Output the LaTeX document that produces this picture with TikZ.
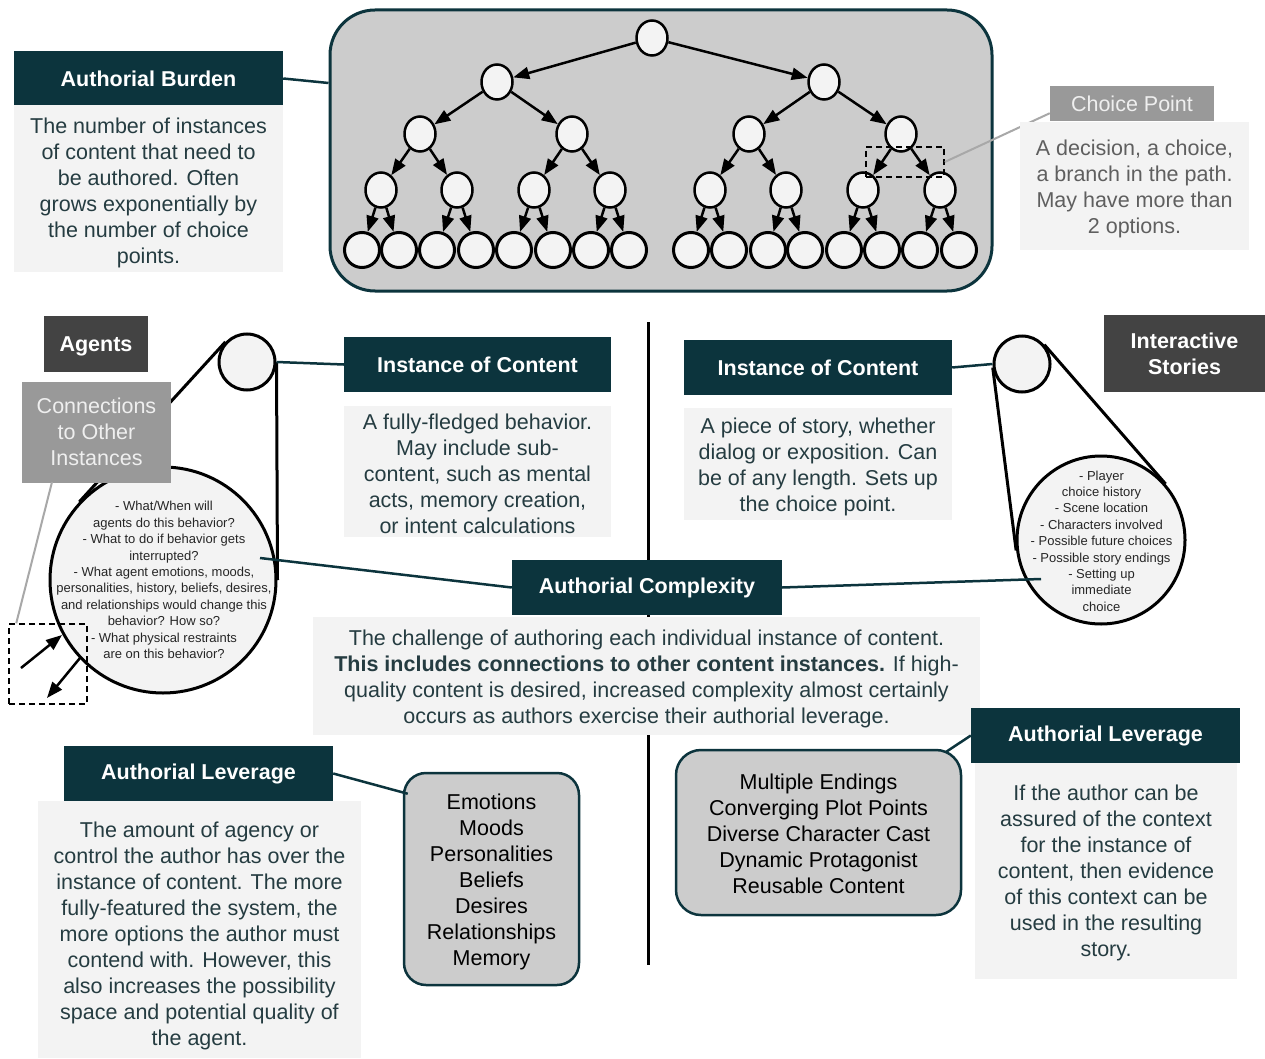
\documentclass[tikz,border=0pt]{standalone}
\usepackage{fontspec}
\setmainfont{Liberation Sans}
\usetikzlibrary{arrows.meta,shapes.geometric,calc}

\definecolor{teal3}{HTML}{0C343D}
\definecolor{lg3}{HTML}{F3F3F3}
\definecolor{lg1}{HTML}{CCCCCC}
\definecolor{dg1}{HTML}{999999}
\definecolor{dg4}{HTML}{434343}
\definecolor{bodytxt}{HTML}{253C41}
\definecolor{greytxt}{HTML}{5F5F5F}
\definecolor{pale}{HTML}{EFEFEF}

\tikzset{
  hdr/.style={fill=teal3, text=white, inner sep=0, align=center,
    font=\fontsize{21.5}{26}\selectfont\bfseries},
  darkbox/.style={fill=dg4, text=white, inner sep=0, align=center,
    font=\fontsize{21.5}{26}\selectfont\bfseries},
  greybox/.style={fill=dg1, text=pale, inner sep=0, align=center,
    font=\fontsize{21.5}{26}\selectfont},
  bodybox/.style={fill=lg3, inner sep=0},
  bodytext/.style={text=bodytxt, inner sep=0, align=center,
    font=\fontsize{21.5}{26}\selectfont},
  listbox/.style={fill=lg1, draw=teal3, line width=2.5pt, inner sep=0},
  listtext/.style={text=black, inner sep=0, align=center,
    font=\fontsize{21.5}{26}\selectfont},
  conn/.style={draw=teal3, line width=2.5pt},
  inode/.style={ellipse, draw=black, fill=lg3, line width=2.5pt,
    minimum width=31pt, minimum height=35pt, inner sep=0},
  leaf/.style={circle, draw=black, fill=lg3, line width=3pt,
    minimum size=35pt, inner sep=0},
  tarrow/.style={line width=2.5pt, -{Triangle[length=16pt,width=12pt]}},
  zoomc/.style={circle, draw=black, fill=lg3, line width=3pt, inner sep=0},
  smalltxt/.style={align=center, text=black!85, inner sep=0,
    font=\fontsize{13}{16.4}\selectfont},
  dashbox/.style={draw=black, line width=1.5pt, dash pattern=on 6pt off 4pt,
    inner sep=0},
  greyline/.style={draw=dg1!85, line width=2pt},
  blackline/.style={draw=black, line width=3pt},
}

\begin{document}
\begin{tikzpicture}[x=1pt,y=-1pt]
\path[use as bounding box, fill=white] (0,0) rectangle (1265,1059);

% central divider
\coordinate (vtop) at (648,322);
\coordinate (vbot) at (648,965);
\draw[blackline] (vtop) -- (vbot);

% ---------- branching story tree ----------
\node[draw=teal3, line width=3pt, fill=lg1, rounded corners=45pt,
      minimum width=662pt, minimum height=281pt] (treebox) at (661,150.5) {};

\node[inode] (r) at (652,38) {};
\node[inode] (a1) at (497,82) {};
\node[inode] (a2) at (824,82) {};
\foreach \i/\x in {1/420,2/572,3/749,4/901}
  \node[inode] (b\i) at (\x,134) {};
\foreach \i/\x in {1/381,2/457,3/534,4/610,5/710,6/786,7/863,8/940}
  \node[inode] (c\i) at (\x,190) {};
\foreach \i/\x in {1/362,2/399,3/437,4/476,5/514,6/553,7/591,8/629,
                   9/691,10/729,11/768,12/805,13/844,14/882,15/920,16/959}
  \node[leaf] (d\i) at (\x,250) {};

\foreach \p/\c in {r/a1,r/a2,a1/b1,a1/b2,a2/b3,a2/b4,
                   b1/c1,b1/c2,b2/c3,b2/c4,b3/c5,b3/c6,b4/c7,b4/c8,
                   c1/d1,c1/d2,c2/d3,c2/d4,c3/d5,c3/d6,c4/d7,c4/d8,
                   c5/d9,c5/d10,c6/d11,c6/d12,c7/d13,c7/d14,c8/d15,c8/d16}
  \draw[tarrow] (\p) -- (\c);

\node[dashbox, minimum width=78pt, minimum height=30pt] (cpdash) at (905,162) {};

% choice point callout
\node[greybox, minimum width=164pt, minimum height=35pt] (cph) at (1132,103.5) {Choice Point};
\draw[greyline] (cpdash.east) -- ($(cph.south west)+(0,-8)$);
\node[bodybox, minimum width=229pt, minimum height=128pt] (cpb) at (1134.5,186) {};
\node[bodytext, text=greytxt] (cpbtxt) at (1134.5,189)
  {A decision, a choice,\\a branch in the path.\\May have more than\\2 options.};

% authorial burden
\node[hdr, minimum width=269pt, minimum height=54pt] (burh) at (148.5,78.5) {Authorial Burden};
\node[bodybox, minimum width=269pt, minimum height=167pt] (burb) at (148.5,188.5) {};
\node[bodytext] (burbtxt) at (148.5,192.5)
  {The number of instances\\of content that need to\\be authored. Often\\grows exponentially by\\the number of choice\\points.};
\draw[conn] (burh.east) -- (treebox.west |- 0,83);

% ---------- agents side ----------
\node[zoomc, minimum size=56pt] (sa) at (247,362) {};
\node[zoomc, minimum size=226pt] (ba) at (163,580) {};
\node[smalltxt] (batxt) at (164,580)
  {- What/When will\\agents do this behavior?\\- What to do if behavior gets\\interrupted?\\- What agent emotions, moods,\\personalities, history, beliefs, desires,\\and relationships would change this\\behavior? How so?\\- What physical restraints\\are on this behavior?};
\draw[blackline] (sa.0) -- (ba.0);
\draw[blackline] (sa.137.5) -- (ba.137.5);

\node[darkbox, minimum width=104pt, minimum height=56pt] (agents) at (96,344) {};
\node[text=white, inner sep=0, font=\fontsize{21.5}{26}\selectfont\bfseries] (agentstxt) at (96,346.5) {Agents};
\node[greybox, minimum width=149pt, minimum height=101pt] (cto) at (96.5,432)
  {Connections\\to Other\\Instances};

\node[dashbox, minimum width=78pt, minimum height=80pt] (ldash) at (48,664) {};
\coordinate (ctofoot) at (52,482);
\draw[greyline] (ctofoot) -- ($(ldash.north west)+(8,0)$);
\coordinate (inA) at (21,668);
\coordinate (inB) at (62,635);
\coordinate (outA) at (80,658);
\coordinate (outB) at (47,698);
\draw[tarrow] (inA) -- (inB);
\draw[tarrow] (outA) -- (outB);

\node[hdr, minimum width=267pt, minimum height=55pt] (ich1) at (477.5,364.5) {Instance of Content};
\node[bodybox, minimum width=267pt, minimum height=131pt] (icb1) at (477.5,471.5) {};
\node[bodytext] (icb1txt) at (477.5,474)
  {A fully-fledged behavior.\\May include sub-\\content, such as mental\\acts, memory creation,\\or intent calculations};
\draw[conn] (sa.east) -- (ich1.west);

% ---------- interactive stories side ----------
\node[darkbox, minimum width=161pt, minimum height=77pt] (istories) at (1184.5,353.5)
  {Interactive\\Stories};
\node[zoomc, minimum size=56pt] (sr) at (1022,364) {};
\node[zoomc, minimum size=168pt] (br) at (1101,540) {};
\node[smalltxt] (brtxt) at (1101.5,541)
  {- Player\\choice history\\- Scene location\\- Characters involved\\- Possible future choices\\- Possible story endings\\- Setting up\\immediate\\choice};
\draw[blackline] (sr.41.1) -- (br.41.1);
\draw[blackline] (sr.187.3) -- (br.187.3);

\node[hdr, minimum width=268pt, minimum height=55pt] (ich2) at (818,367.5) {Instance of Content};
\node[bodybox, minimum width=268pt, minimum height=112pt] (icb2) at (818,464) {};
\node[bodytext] (icb2txt) at (818,466.5)
  {A piece of story, whether\\dialog or exposition. Can\\be of any length. Sets up\\the choice point.};
\draw[conn] (ich2.east) -- (sr.west);

% ---------- authorial complexity ----------
\node[hdr, minimum width=270pt, minimum height=55pt] (ach) at (647,587.5) {Authorial Complexity};
\node[bodybox, minimum width=667pt, minimum height=118pt] (acb) at (646.5,676) {};
\node[bodytext] (acbtxt) at (646.5,678.5)
  {The challenge of authoring each individual instance of content.\\
   \textbf{This includes connections to other content instances.} If high-\\
   quality content is desired, increased complexity almost certainly\\
   occurs as authors exercise their authorial leverage.};
\coordinate (lin) at (260,558);
\coordinate (rin) at (1041,579);
\draw[conn] (ach.west) -- (lin);
\draw[conn] (ach.east) -- (rin);

% ---------- authorial leverage, agents ----------
\node[hdr, minimum width=269pt, minimum height=55pt] (alh1) at (198.5,773.5) {Authorial Leverage};
\node[bodybox, minimum width=323pt, minimum height=257pt] (alb1) at (199.5,929) {};
\node[bodytext] (alb1txt) at (199.5,936)
  {The amount of agency or\\control the author has over the\\instance of content. The more\\fully-featured the system, the\\more options the author must\\contend with. However, this\\also increases the possibility\\space and potential quality of\\the agent.};
\node[listbox, rounded corners=22pt, minimum width=175pt, minimum height=212pt] (emo) at (491.5,879) {};
\node[listtext] (emotxt) at (491.5,882)
  {Emotions\\Moods\\Personalities\\Beliefs\\Desires\\Relationships\\Memory};
\draw[conn] (alh1.east) -- ($(emo.north west)+(5,22)$);

% ---------- authorial leverage, stories ----------
\node[listbox, rounded corners=25pt, minimum width=285pt, minimum height=165pt] (mend) at (818.5,832.5) {};
\node[listtext] (mendtxt) at (818.5,834)
  {Multiple Endings\\Converging Plot Points\\Diverse Character Cast\\Dynamic Protagonist\\Reusable Content};
\node[hdr, minimum width=269pt, minimum height=55pt] (alh2) at (1105.5,735.5) {Authorial Leverage};
\node[bodybox, minimum width=262pt, minimum height=216pt] (alb2) at (1106,871) {};
\node[bodytext] (alb2txt) at (1106,873)
  {If the author can be\\assured of the context\\for the instance of\\content, then evidence\\of this context can be\\used in the resulting\\story.};
\draw[conn] (alh2.west) -- ($(mend.north east)+(-16,3)$);
\end{tikzpicture}
\end{document}
